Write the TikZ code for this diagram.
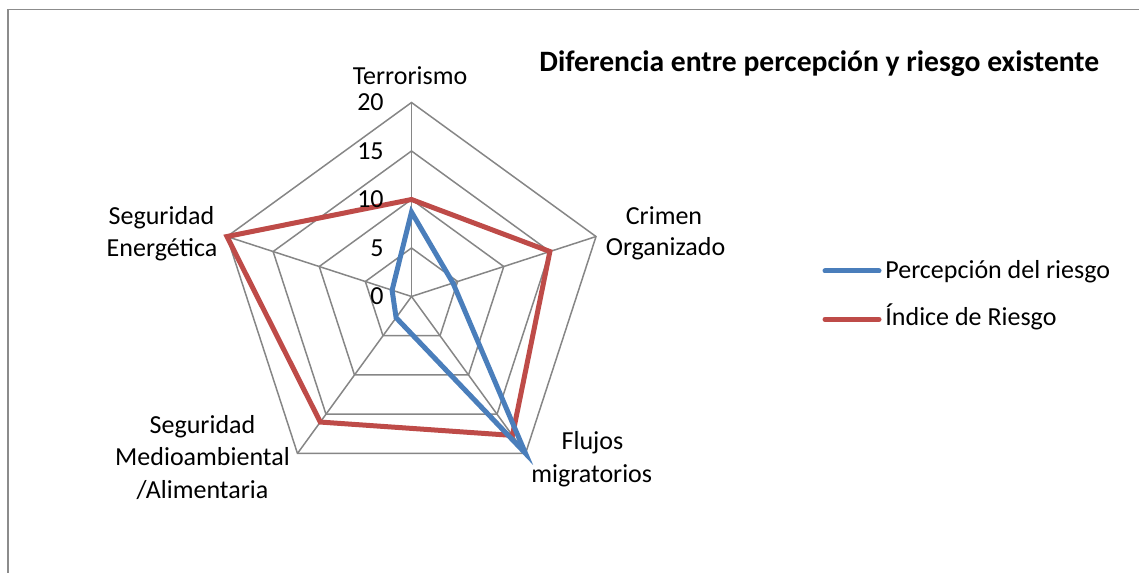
\documentclass[tikz,border=0pt]{standalone}
\usepackage{fontspec}
\setmainfont{Carlito}
\definecolor{serblue}{HTML}{4A7EBB}
\definecolor{serred}{HTML}{BE4B48}
\definecolor{gridgray}{HTML}{868686}
\definecolor{framegray}{HTML}{8C8C8C}
\begin{document}
\begin{tikzpicture}[x=0.5pt,y=0.5pt,
  gridline/.style={draw=gridgray, line width=0.75pt},
  series/.style={line width=2.5pt},
  lbl/.style={inner sep=0pt, anchor=base, font=\fontsize{13}{15}\selectfont},
  tick/.style={inner sep=0pt, anchor=east, font=\fontsize{13}{15}\selectfont},
  legtext/.style={inner sep=0pt, anchor=base west, font=\fontsize{13}{15}\selectfont},
  legline/.style={line width=2.5pt, line cap=round}]
\useasboundingbox (0,0) rectangle (1139,573);
% frame
\draw[draw=framegray, line width=0.8pt] (1139,563.5) -- (8,563.5) -- (8,0);
% chart
\begin{scope}[shift={(411.5,276.5)}]
  \coordinate (O) at (0,0);
  \foreach \r in {48.5,97,145.5,194}
    \draw[gridline] (90:\r) -- (18:\r) -- (-54:\r) -- (-126:\r) -- (162:\r) -- cycle;
  \foreach \a in {90,18,-54,-126,162}
    \draw[gridline] (O) -- (\a:194);
  % Indice de Riesgo
  \coordinate (rT) at (90:97);
  \coordinate (rC) at (18:145.5);
  \coordinate (rF) at (-54:171.7);
  \coordinate (rM) at (-126:155.2);
  \coordinate (rE) at (162:194);
  \draw[series, serred] (rT) -- (rC) -- (rF) -- (rM) -- (rE) -- cycle;
  % Percepcion del riesgo
  \coordinate (bT) at (90:84.4);
  \coordinate (bC) at (18:43.6);
  \coordinate (bF) at (-54:194);
  \coordinate (bM) at (-126:26.2);
  \coordinate (bE) at (162:20.4);
  \draw[series, serblue] (bT) -- (bC) -- (bF) -- (bM) -- (bE) -- cycle;
\end{scope}
% tick labels
\node[tick] (t0) at (384,276.5) {0};
\node[tick] (t5) at (384,325) {5};
\node[tick] (t10) at (384,373.5) {10};
\node[tick] (t15) at (384,422) {15};
\node[tick] (t20) at (384,470.5) {20};
% axis labels
\node[lbl] (terr) at (410,488) {Terrorismo};
\node[lbl] (crim1) at (664,348) {Crimen};
\node[lbl] (crim2) at (665.5,317) {Organizado};
\node[lbl] (fluj1) at (592.5,124) {Flujos};
\node[lbl] (fluj2) at (591.7,90.3) {migratorios};
\node[lbl] (med1) at (202.5,140) {Seguridad};
\node[lbl] (med2) at (202.5,108) {Medioambiental};
\node[lbl] (med3) at (202.5,75) {/Alimentaria};
\node[lbl] (ene1) at (161.5,348) {Seguridad};
\node[lbl] (ene2) at (162,316.3) {Energética};
% title
\node[inner sep=0pt, anchor=base west, font=\fontsize{14.8}{17}\selectfont\bfseries] (title) at (539,501) {Diferencia entre percepción y riesgo existente};
% legend
\coordinate (lb1) at (825,302);
\coordinate (lb2) at (879,302);
\coordinate (lr1) at (825,253.7);
\coordinate (lr2) at (879,253.7);
\draw[legline, serblue] (lb1) -- (lb2);
\draw[legline, serred] (lr1) -- (lr2);
\node[legtext] (legb) at (885,294.7) {Percepción del riesgo};
\node[legtext] (legr) at (885,247) {Índice de Riesgo};
\end{tikzpicture}
\end{document}
